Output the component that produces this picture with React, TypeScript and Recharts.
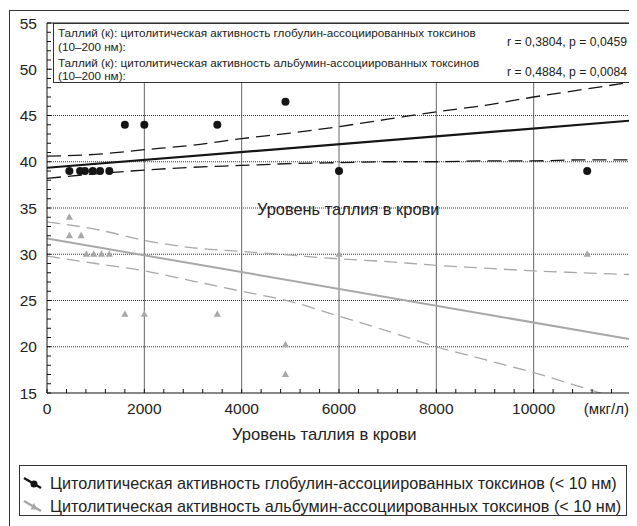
import React from "react"
import { ComposedChart, Line, Scatter, XAxis, YAxis, ReferenceLine } from "recharts"

// точки: глобулин-ассоциированные токсины
const globulinX = [460, 680, 780, 940, 1090, 1280, 1600, 2000, 3500, 4900, 6000, 11100]
const globulinY = [39, 39, 39, 39, 39, 39, 44, 44, 44, 46.5, 39, 39]

// точки: альбумин-ассоциированные токсины
const albuminX = [460, 460, 700, 810, 960, 1120, 1280, 1600, 2000, 3500, 4900, 4900, 6000, 11100]
const albuminY = [34, 32, 32, 30, 30, 30, 30, 23.5, 23.5, 23.5, 20.2, 17, 30, 30]

// линии регрессии
const fitX = [0, 12000]
const globulinFit = [39.35, 44.45]
const albuminFit = [31.7, 20.8]

// доверительные интервалы
const bandX = [0, 1000, 2000, 3000, 4000, 5000, 6000, 7000, 8000, 9000, 10000, 11000, 12000]
const globulinUpper = [40.6, 40.8, 41.3, 41.8, 42.5, 43.1, 43.8, 44.6, 45.4, 46.1, 47.0, 47.8, 48.6]
const globulinLower = [38.2, 38.7, 39.1, 39.4, 39.6, 39.8, 39.9, 40.0, 40.0, 40.1, 40.1, 40.2, 40.2]
const albuminUpper = [33.5, 32.7, 31.5, 30.7, 30.3, 29.9, 29.5, 29.2, 28.8, 28.5, 28.2, 28.0, 27.8]
const albuminLower = [29.8, 29.0, 28.2, 27.1, 26.0, 24.9, 23.3, 21.7, 20.0, 18.6, 17.2, 15.6, 14.0]

const xMajorTicks = [0, 2000, 4000, 6000, 8000, 10000]
const yMajorTicks = [15, 20, 25, 30, 35, 40, 45, 50, 55]
const xMinorTicks = Array.from({ length: 31 }, (_, i) => i * 400)
const yMinorTicks = Array.from({ length: 41 }, (_, i) => 15 + i)
const xUnit = "(мкг/л)"

const axisTitle = "Уровень таллия в крови"
const legendNames = [
  "Цитолитическая активность глобулин-ассоциированных токсинов (< 10 нм)",
  "Цитолитическая активность альбумин-ассоциированных токсинов (< 10 нм)",
]
const statLines = [
  ["Таллий (к): цитолитическая активность глобулин-ассоциированных токсинов", "(10–200 нм):", "r = 0,3804, p = 0,0459"],
  ["Таллий (к): цитолитическая активность альбумин-ассоциированных токсинов", "(10–200 нм):", "r = 0,4884, p = 0,0084"],
]

const toPoints = (xs: number[], ys: number[]) => xs.map((x, i) => ({ x, y: ys[i] }))

const BLACK = "#151515"
const GRAY = "#a8a8a8"
const TEXT = "#222"
const FONT = "'Liberation Sans', Arial, sans-serif"

function XTick({ x, y, payload }: any) {
  const v = payload.value
  if (v === 12000)
    return (
      <text x={x - 2} y={y} dy="0.71em" textAnchor="end" fontSize={15} fill={TEXT}>
        {xUnit}
      </text>
    )
  if (!xMajorTicks.includes(v)) return null
  return (
    <text x={x} y={y} dy="0.71em" textAnchor="middle" fontSize={15.5} fill={TEXT}>
      {v}
    </text>
  )
}

function YTick({ x, y, payload }: any) {
  if (!yMajorTicks.includes(payload.value)) return null
  return (
    <text x={x} y={y} dy="0.36em" textAnchor="end" fontSize={15.5} fill={TEXT}>
      {payload.value}
    </text>
  )
}

const Dot = (p: any) => <circle cx={p.cx} cy={p.cy} r={4} fill={BLACK} />
const Tri = (p: any) => (
  <polygon
    points={`${p.cx},${p.cy - 4} ${p.cx - 3.6},${p.cy + 2.4} ${p.cx + 3.6},${p.cy + 2.4}`}
    fill={GRAY}
  />
)

export default function App() {
  return (
    <div style={{ position: "relative", width: 629, height: 518, overflow: "hidden", fontFamily: FONT, color: TEXT }}>
      <div style={{ position: "absolute", left: 1, top: 2, width: 626, height: 540, border: "1px solid #333" }} />
      <div style={{ position: "absolute", left: 0, top: 0 }}>
        <ComposedChart width={629} height={410} margin={{ top: 14, right: 5, left: 9, bottom: 0 }}>
          <XAxis
            type="number"
            dataKey="x"
            domain={[0, 12000]}
            ticks={xMinorTicks}
            interval={0}
            allowDataOverflow
            tickSize={-4}
            tickMargin={14}
            height={25}
            stroke="#111"
            tick={<XTick />}
          />
          <XAxis
            xAxisId="top"
            orientation="top"
            type="number"
            domain={[0, 12000]}
            ticks={xMinorTicks}
            interval={0}
            allowDataOverflow
            tickSize={-4}
            height={1}
            stroke="#111"
            tick={false}
          />
          <YAxis
            type="number"
            dataKey="y"
            domain={[15, 55]}
            ticks={yMinorTicks}
            interval={0}
            allowDataOverflow
            tickSize={-4}
            tickMargin={14}
            width={30}
            stroke="#111"
            tick={<YTick />}
          />
          <YAxis
            yAxisId="right"
            orientation="right"
            type="number"
            domain={[15, 55]}
            ticks={yMinorTicks}
            interval={0}
            allowDataOverflow
            tickSize={-4}
            width={1}
            stroke="#111"
            tick={false}
          />
          {xMajorTicks.slice(1).map((v) => (
            <ReferenceLine key={"vx" + v} x={v} stroke="#666" strokeWidth={1} />
          ))}
          {yMajorTicks.slice(1, -1).map((v) => (
            <ReferenceLine key={"hy" + v} y={v} stroke="#333" strokeWidth={1} strokeDasharray="1 1" />
          ))}
          <Line data={toPoints(bandX, albuminUpper)} dataKey="y" type="monotone" stroke={GRAY} strokeWidth={1.3} strokeDasharray="13 7" dot={false} isAnimationActive={false} />
          <Line data={toPoints(bandX, albuminLower)} dataKey="y" type="monotone" stroke={GRAY} strokeWidth={1.3} strokeDasharray="13 7" dot={false} isAnimationActive={false} />
          <Line data={toPoints(fitX, albuminFit)} dataKey="y" type="linear" stroke={GRAY} strokeWidth={2} dot={false} isAnimationActive={false} />
          <Scatter data={toPoints(albuminX, albuminY)} dataKey="y" shape={Tri} isAnimationActive={false} />
          <Line data={toPoints(bandX, globulinUpper)} dataKey="y" type="monotone" stroke={BLACK} strokeWidth={1.3} strokeDasharray="14 7" dot={false} isAnimationActive={false} />
          <Line data={toPoints(bandX, globulinLower)} dataKey="y" type="monotone" stroke={BLACK} strokeWidth={1.3} strokeDasharray="14 7" dot={false} isAnimationActive={false} />
          <Line data={toPoints(fitX, globulinFit)} dataKey="y" type="linear" stroke={BLACK} strokeWidth={2.2} dot={false} isAnimationActive={false} />
          <Scatter data={toPoints(globulinX, globulinY)} dataKey="y" shape={Dot} isAnimationActive={false} />
        </ComposedChart>
      </div>

      {/* блок со статистикой */}
      <div style={{ position: "absolute", left: 45, top: 15, width: 577, height: 58, border: "1px solid #333", background: "#fff", fontSize: 11.7 }}>
        {statLines.map((s, i) => (
          <React.Fragment key={i}>
            <div style={{ position: "absolute", left: 4, top: 2 + i * 30, lineHeight: "14px", whiteSpace: "nowrap" }}>{s[0]}</div>
            <div style={{ position: "absolute", left: 4, top: 16 + i * 29, lineHeight: "14px", whiteSpace: "nowrap" }}>{s[1]}</div>
            <div style={{ position: "absolute", right: 4, top: 11 + i * 30, lineHeight: "14px", whiteSpace: "nowrap", fontSize: 12.2 }}>{s[2]}</div>
          </React.Fragment>
        ))}
      </div>

      <div style={{ position: "absolute", left: 249, top: 192, fontSize: 16.4, lineHeight: "18px", whiteSpace: "nowrap" }}>{axisTitle}</div>

      <div style={{ position: "absolute", left: 224, top: 418, fontSize: 16.6, lineHeight: "18px", whiteSpace: "nowrap" }}>{axisTitle}</div>

      {/* легенда */}
      <div style={{ position: "absolute", left: 11, top: 457, width: 606, height: 49, border: "1px solid #333", background: "#fff", fontSize: 16.2 }}>
        {legendNames.map((name, i) => (
          <div key={i} style={{ position: "absolute", left: 3, top: 8 + i * 23, height: 18, display: "flex", alignItems: "center", whiteSpace: "nowrap" }}>
            <svg width={20} height={16} style={{ marginRight: 7 }}>
              <line x1={1} y1={3} x2={18} y2={13} stroke={i === 0 ? BLACK : GRAY} strokeWidth={2.5} />
              {i === 0 ? (
                <circle cx={11} cy={9} r={3.5} fill={BLACK} />
              ) : (
                <polygon points="11,5 7.5,11.5 14.5,11.5" fill={GRAY} />
              )}
            </svg>
            <span style={{ lineHeight: "18px" }}>{name}</span>
          </div>
        ))}
      </div>
    </div>
  )
}
